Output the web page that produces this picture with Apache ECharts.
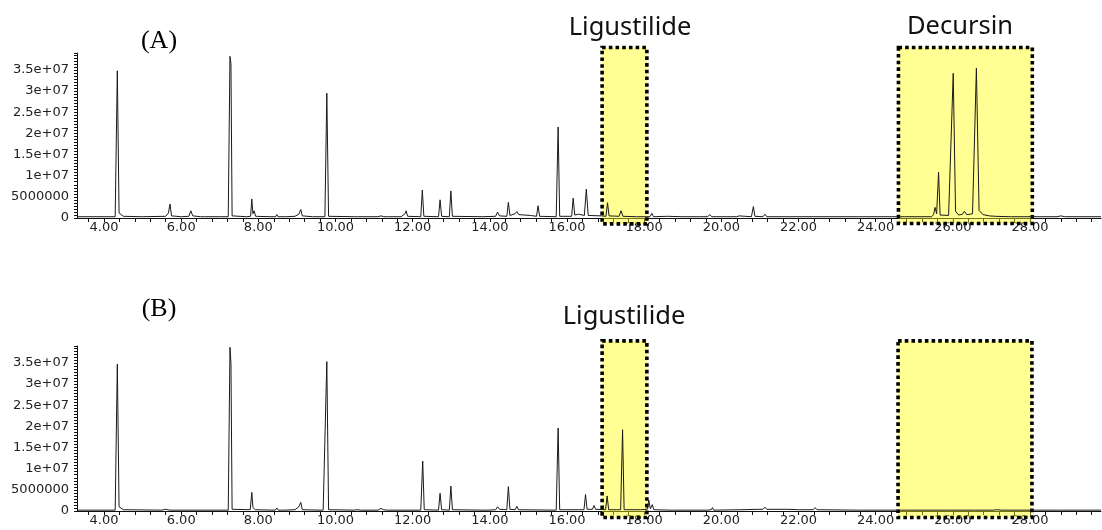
<!DOCTYPE html>
<html>
<head>
<meta charset="utf-8">
<script src="https://cdn.jsdelivr.net/npm/echarts@6/dist/echarts.min.js"></script>
<style>
html,body{margin:0;padding:0;background:#fff;}
#chart{width:1102px;height:530px;}
</style>
</head>
<body>
<div id="chart"></div>
<script>
// Retention time (min) / abundance (millions of counts)
const traceA = [
[3.3,0.3],[4.0,0.3],[4.29,0.3],[4.345,34.8],[4.39,1.2],[4.44,1.3],[4.5,0.4],
[5.0,0.3],[5.6,0.4],[5.67,1.2],[5.71,3.3],[5.75,0.5],[6.0,0.3],
[6.2,0.4],[6.25,1.7],[6.3,0.5],[6.5,0.3],[6.55,0.5],[6.6,0.3],
[7.0,0.3],[7.22,0.3],[7.265,38.2],[7.29,36.5],[7.32,0.5],
[7.7,0.3],[7.8,0.4],[7.83,4.5],[7.86,1.0],[7.89,1.7],[7.93,0.4],
[8.3,0.3],[8.45,0.3],[8.48,0.8],[8.51,0.3],
[8.7,0.3],[8.95,0.4],[9.05,0.9],[9.1,2.0],[9.14,0.5],
[9.4,0.3],[9.725,0.3],[9.775,29.5],[9.82,0.4],
[10.5,0.3],[10.53,0.6],[10.58,0.3],
[11.1,0.3],[11.18,0.5],[11.25,0.3],[11.3,0.4],[11.35,0.3],
[11.7,0.3],[11.8,1.0],[11.83,1.7],[11.87,0.4],
[12.21,0.3],[12.25,6.6],[12.29,0.4],
[12.67,0.3],[12.71,4.3],[12.75,0.4],
[12.95,0.3],[12.99,6.4],[13.03,0.4],
[13.8,0.3],[14.15,0.4],[14.2,1.4],[14.25,0.5],
[14.44,0.4],[14.48,3.7],[14.52,0.6],[14.65,1.0],[14.7,1.5],[14.75,0.8],[14.8,0.4],
[15.05,0.6],[15.1,0.3],
[15.21,0.4],[15.25,2.9],[15.29,0.4],
[15.72,0.3],[15.77,21.5],[15.81,0.4],
[16.12,0.4],[16.16,4.7],[16.2,0.7],[16.3,0.9],[16.35,0.6],
[16.45,0.6],[16.5,6.8],[16.55,0.6],
[16.9,0.5],[17.01,0.4],[17.05,3.6],[17.09,0.5],
[17.35,0.4],[17.4,1.7],[17.45,0.4],
[17.8,0.3],[18.15,0.3],[18.2,1.1],[18.24,0.3],
[18.6,0.4],[19.0,0.3],[19.65,0.3],[19.7,0.8],[19.75,0.3],
[20.4,0.3],[20.46,0.5],[20.5,0.3],[20.78,0.3],[20.83,2.7],[20.87,0.4],[21.08,0.3],[21.13,0.9],[21.18,0.3],
[22.38,0.3],[22.43,0.6],[22.48,0.3],[23.55,0.3],[23.6,0.5],[23.65,0.3],
[24.65,0.3],[24.7,0.5],[24.75,0.3],
[25.45,0.3],[25.5,0.8],[25.54,2.5],[25.58,1.0],[25.63,10.8],[25.67,0.7],
[25.89,0.6],[26.01,34.2],[26.07,1.6],[26.15,0.7],
[26.25,0.9],[26.3,1.6],[26.36,0.8],[26.45,0.9],
[26.51,1.0],[26.61,35.4],[26.68,1.8],[26.78,0.8],[26.95,0.5],[27.1,0.4],[27.5,0.3],
[28.7,0.3],[28.8,0.5],[28.9,0.3],[29.84,0.3]
];
const traceB = [
[3.3,0.2],[4.0,0.2],[4.29,0.2],[4.345,34.7],[4.39,1.0],[4.44,1.0],[4.5,0.3],
[5.5,0.2],[5.6,0.4],[5.65,0.3],[5.7,0.2],
[7.22,0.2],[7.265,38.7],[7.29,35.0],[7.32,0.4],
[7.79,0.3],[7.83,4.4],[7.86,0.8],[7.88,1.0],[7.92,0.3],
[8.44,0.2],[8.48,0.7],[8.52,0.2],[8.6,0.2],[8.63,0.4],[8.66,0.2],
[8.95,0.3],[9.05,1.0],[9.1,2.05],[9.14,0.3],
[9.6,0.2],[9.64,0.5],[9.68,0.2],[9.725,0.2],[9.775,35.3],[9.82,0.3],
[10.48,0.2],[10.53,0.5],[10.56,0.3],[10.6,0.4],[10.65,0.2],
[11.1,0.2],[11.18,0.6],[11.25,0.3],[11.3,0.4],[11.35,0.2],
[12.21,0.2],[12.26,11.8],[12.3,0.3],
[12.67,0.2],[12.71,4.2],[12.75,0.3],
[12.95,0.2],[12.99,5.9],[13.03,0.3],
[13.85,0.2],[13.9,0.4],[13.95,0.2],
[14.15,0.3],[14.2,1.0],[14.25,0.4],
[14.44,0.3],[14.48,5.75],[14.52,0.4],[14.66,0.3],[14.7,1.1],[14.74,0.3],
[15.72,0.2],[15.77,19.6],[15.81,0.3],
[16.3,0.3],
[16.44,0.3],[16.48,3.9],[16.52,0.4],[16.66,0.4],[16.7,1.3],[16.74,0.4],
[17.0,0.3],[17.04,3.55],[17.08,0.3],[17.22,0.3],[17.25,0.7],[17.28,0.3],
[17.39,0.3],[17.44,19.2],[17.48,0.3],
[17.9,0.3],[18.08,0.4],[18.12,2.6],[18.16,0.5],[18.21,1.5],[18.25,0.3],
[18.7,0.2],[18.73,0.4],[18.76,0.2],
[19.65,0.2],[19.7,0.6],[19.74,0.3],[19.77,0.8],[19.8,0.2],
[20.5,0.3],[21.0,0.4],[21.08,0.4],[21.13,0.9],[21.18,0.4],[21.7,0.4],[22.0,0.3],
[22.38,0.3],[22.43,0.8],[22.48,0.3],
[23.56,0.2],[23.61,0.6],[23.66,0.2],
[24.67,0.2],[24.72,0.6],[24.77,0.2],
[25.9,0.2],[25.93,0.4],[25.96,0.2],[26.53,0.2],[26.56,0.3],[26.59,0.2],
[27.05,0.2],[27.1,0.5],[27.15,0.3],[27.2,0.4],[27.25,0.2],
[28.73,0.2],[28.77,0.3],[28.81,0.2],[29.84,0.2]
];
// highlighted windows: [start min, end min, top, bottom] (millions)
const boxesA = [[16.91,18.07,40.3,-1.4],[24.59,28.06,40.3,-1.3]];
const boxesB = [[16.91,18.07,40.2,-1.55],[24.58,28.05,40.2,-1.55]];
const xTickLabels = [4,6,8,10,12,14,16,18,20,22,24,26,28];
const yTickLabels = ['0','5000000','1e+07','1.5e+07','2e+07','2.5e+07','3e+07','3.5e+07'];
const panelLabels = ['(A)','(B)'];
const compoundLabels = ['Ligustilide','Decursin','Ligustilide'];

const xMinorTicks = [];
for (let v = 3.6; v < 29.8; v += 0.4) xMinorTicks.push(Math.round(v*10)/10);

const chart = echarts.init(document.getElementById('chart'), null, {renderer:'canvas'});
const tickFont = {fontFamily:'DejaVu Sans', fontSize:13, color:'#222'};
function xAxisDef(gi){
  return {
    type:'value', gridIndex:gi, min:3.3, max:29.84,
    axisLine:{show:true, onZero:false, lineStyle:{color:'#111', width:1}},
    axisTick:{show:true, inside:false, length:4, customValues:xMinorTicks, lineStyle:{color:'#111'}},
    axisLabel:Object.assign({show:true, margin:3, customValues:xTickLabels,
      formatter:v=>v.toFixed(2)}, tickFont),
    splitLine:{show:false}
  };
}
function yAxisDef(gi){
  return {
    type:'value', gridIndex:gi, min:0, max:39, interval:5,
    axisLine:{show:true, lineStyle:{color:'#111', width:1}},
    axisTick:{show:true, inside:false, length:3, lineStyle:{color:'#111'}},
    minorTick:{show:true, splitNumber:7, length:3, lineStyle:{color:'#111'}},
    axisLabel:Object.assign({show:true, margin:8, showMaxLabel:false,
      formatter:v=>{const i=Math.round(v/5); return (Math.abs(v-i*5)<1e-6 && yTickLabels[i]!==undefined)?yTickLabels[i]:'';}}, tickFont),
    splitLine:{show:false}, minorSplitLine:{show:false}
  };
}
function boxSeries(gi, data){
  return {
    type:'custom', xAxisIndex:gi, yAxisIndex:gi, z:1, clip:false, silent:true,
    encode:{x:[0,1], y:[2,3]},
    data:data,
    renderItem:function(params, api){
      const p0 = api.coord([api.value(0), api.value(2)]);
      const p1 = api.coord([api.value(1), api.value(3)]);
      return {
        type:'rect',
        shape:{x:p0[0], y:p0[1], width:p1[0]-p0[0], height:p1[1]-p0[1]},
        style:{fill:'rgba(255,255,0,0.42)', stroke:'#000', lineWidth:3.6, lineDash:[3.6,3.1], lineCap:'butt'}
      };
    }
  };
}
function traceSeries(gi, data){
  return {
    type:'line', xAxisIndex:gi, yAxisIndex:gi, z:3, data:data,
    showSymbol:false, symbol:'none', smooth:false,
    lineStyle:{color:'#1a1a1a', width:1}, silent:true
  };
}
const option = {
  backgroundColor:'#fff',
  animation:false,
  grid:[
    {left:77, top:53, width:1024, height:165, outerBoundsMode:'none', containLabel:false},
    {left:77, top:346, width:1024, height:165, outerBoundsMode:'none', containLabel:false}
  ],
  xAxis:[xAxisDef(0), xAxisDef(1)],
  yAxis:[yAxisDef(0), yAxisDef(1)],
  series:[boxSeries(0, boxesA), traceSeries(0, traceA), boxSeries(1, boxesB), traceSeries(1, traceB)],
  graphic:[
    {type:'text', x:159, y:41, style:{text:panelLabels[0], font:'26px "Liberation Serif"', fill:'#000', align:'center', verticalAlign:'middle'}},
    {type:'text', x:159, y:309, style:{text:panelLabels[1], font:'26px "Liberation Serif"', fill:'#000', align:'center', verticalAlign:'middle'}},
    {type:'text', x:630, y:28, style:{text:compoundLabels[0], font:'25.5px "Noto Sans"', fill:'#111', align:'center', verticalAlign:'middle'}},
    {type:'text', x:960, y:27, style:{text:compoundLabels[1], font:'25.5px "Noto Sans"', fill:'#111', align:'center', verticalAlign:'middle'}},
    {type:'text', x:624, y:317, style:{text:compoundLabels[2], font:'25.5px "Noto Sans"', fill:'#111', align:'center', verticalAlign:'middle'}}
  ]
};
chart.setOption(option);
</script>
</body>
</html>
